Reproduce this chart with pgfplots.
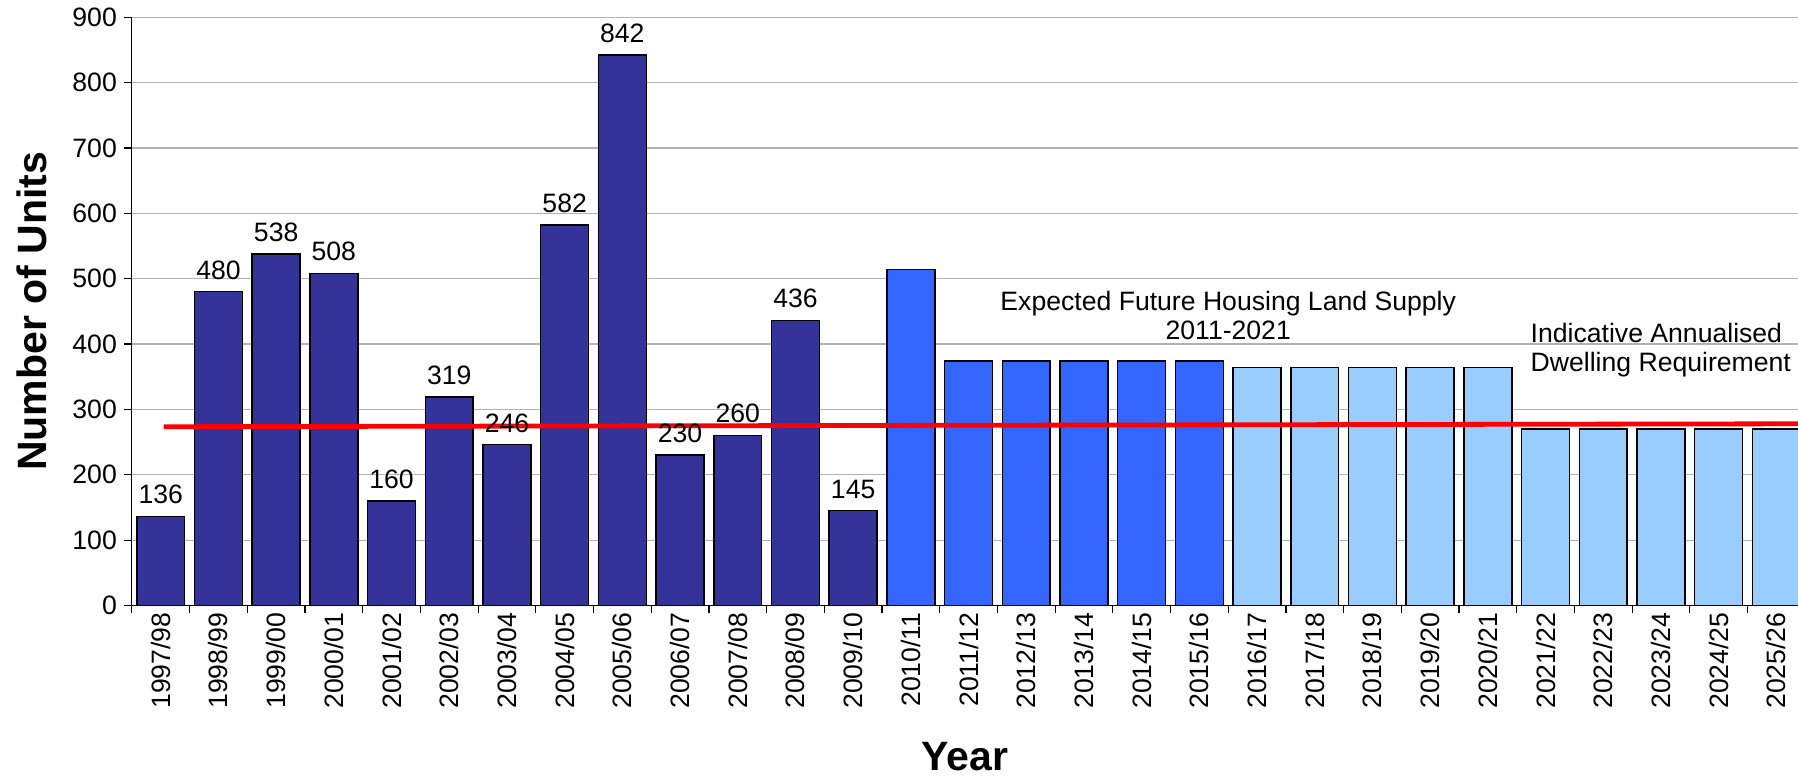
\documentclass[border=0pt]{standalone}
\usepackage{pgfplots}
\pgfplotsset{compat=1.18}
\usepackage{fontspec}
\setmainfont{Liberation Sans}
\definecolor{navy}{RGB}{51,51,153}
\definecolor{brightblue}{RGB}{51,102,255}
\definecolor{lightblue}{RGB}{153,204,255}
\newcommand{\fs}{\fontsize{13.3}{14.5}\selectfont}
\begin{document}
\begin{tikzpicture}
\useasboundingbox (-65.95pt,-86.75pt) rectangle (833.05pt,302.75pt);
\begin{axis}[
  scale only axis, width=833.05pt, height=294.15pt,
  xmin=-0.5, xmax=28.375, ymin=0, ymax=900,
  axis lines*=left,
  axis line style={black, line width=0.6pt},
  /pgf/number format/assume math mode=true,
  ytick={0,100,...,900},
  ymajorgrids, grid style={gray!60, line width=0.6pt},
  tick align=outside,
  major tick length=4pt,
  tick style={black, line width=0.6pt},
  xtick={-0.5,0.5,...,27.5},
  xticklabels={},
  extra x ticks={0,1,...,28},
  extra x tick labels={1997/98,1998/99,1999/00,2000/01,2001/02,2002/03,2003/04,2004/05,2005/06,2006/07,2007/08,2008/09,2009/10,2010/11,2011/12,2012/13,2013/14,2014/15,2015/16,2016/17,2017/18,2018/19,2019/20,2020/21,2021/22,2022/23,2023/24,2024/25,2025/26},
  extra x tick style={major tick length=0pt},
  xticklabel style={rotate=90, anchor=east, font=\fs},
  yticklabel style={font=\fs},
  ylabel={Number of Units},
  xlabel={Year},
  every axis y label/.style={at={(axis description cs:-0.06,0.5)}, rotate=90, anchor=center, font=\fontsize{20.5}{24}\selectfont\bfseries},
  every axis x label/.style={at={(axis description cs:0.5,-0.2575)}, anchor=center, font=\fontsize{20.5}{24}\selectfont\bfseries},
  clip=true,
]
\addplot[ybar, bar width=0.83, bar shift=0pt, fill=navy, draw=black, line width=0.75pt,
  nodes near coords, nodes near coords style={font=\fs, black, yshift=2.5pt}]
  coordinates {(0,136) (1,480) (2,538) (3,508) (4,160) (5,319) (6,246) (7,582) (8,842) (9,230) (10,260) (11,436) (12,145)};
\addplot[ybar, bar width=0.83, bar shift=0pt, fill=brightblue, draw=black, line width=0.75pt]
  coordinates {(13,514) (14,374) (15,374) (16,374) (17,374) (18,374)};
\addplot[ybar, bar width=0.83, bar shift=0pt, fill=lightblue, draw=black, line width=0.75pt]
  coordinates {(19,364) (20,364) (21,364) (22,364) (23,364) (24,270) (25,270) (26,270) (27,270) (28,270)};
\addplot[red, line width=2.4pt, no marks] coordinates {(0.05,273.5) (28.5,278)};
\node[font=\fs, align=center] at (axis cs:18.5,443) {Expected Future Housing Land Supply\\2011-2021};
\node[font=\fs, align=left, anchor=west] at (axis cs:23.62,391) {Indicative Annualised\\Dwelling Requirement};
\end{axis}
\end{tikzpicture}
\end{document}
